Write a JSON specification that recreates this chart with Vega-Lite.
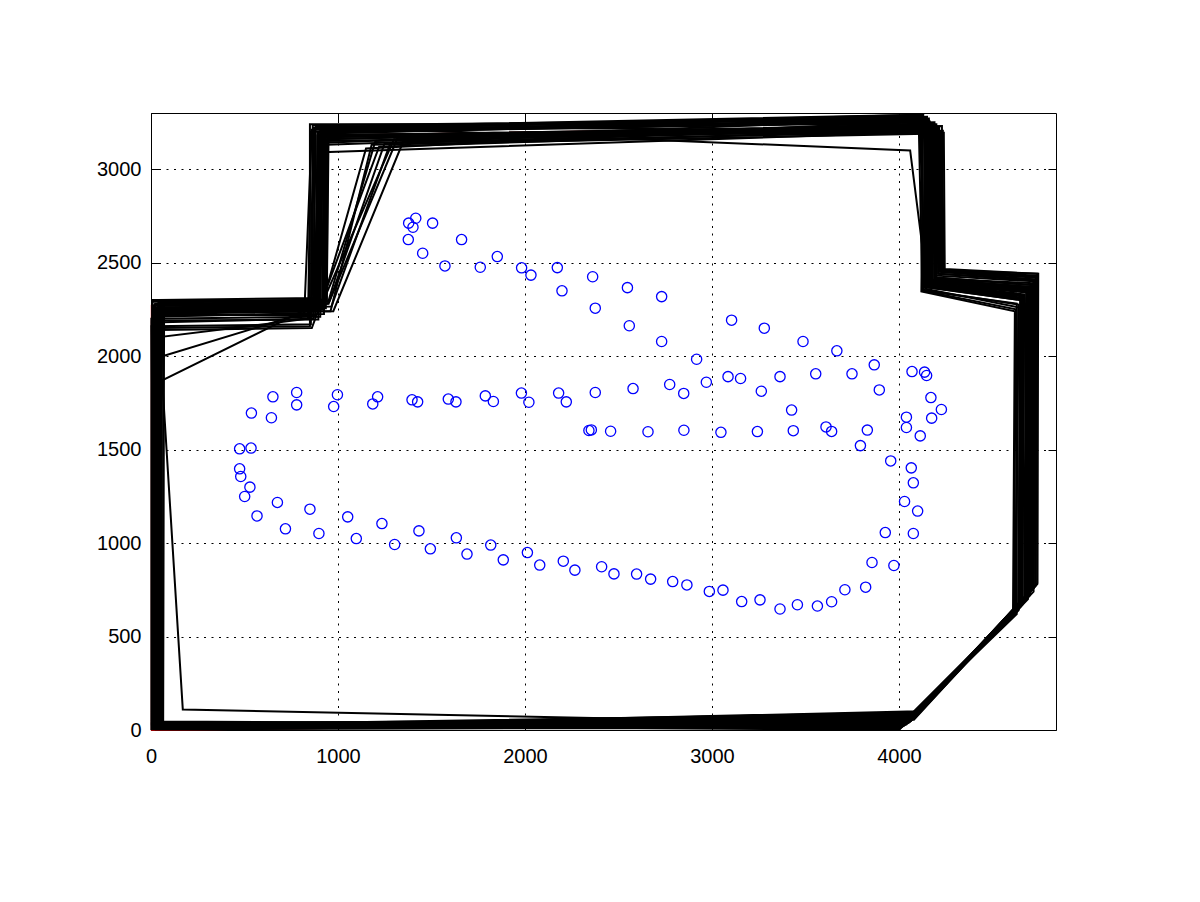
{
  "$schema": "https://vega.github.io/schema/vega-lite/v6.json",
  "width": 905,
  "height": 617,
  "autosize": {"type": "none"},
  "padding": {"left": 151, "top": 113, "right": 144, "bottom": 172},
  "background": "white",
  "config": {
    "view": {"stroke": "#000", "strokeWidth": 1},
    "font": "Liberation Sans"
  },
  "datasets": {
    "truth": [
      {"k":1,"x":3,"y":0},{"k":2,"x":3,"y":2270},{"k":3,"x":900,"y":2290},{"k":4,"x":910,"y":3180},{"k":5,"x":4180,"y":3230},{"k":6,"x":4170,"y":2400},{"k":7,"x":4685,"y":2350},{"k":8,"x":4685,"y":700},{"k":9,"x":4050,"y":40}
    ],
    "runs": [
      {"run":1,"k":1,"x":10,"y":20},{"run":1,"k":2,"x":15,"y":2270},{"run":1,"k":3,"x":900,"y":2290},{"run":1,"k":4,"x":910,"y":3180},{"run":1,"k":5,"x":4180,"y":3230},{"run":1,"k":6,"x":4170,"y":2400},{"run":1,"k":7,"x":4700,"y":2350},{"run":1,"k":8,"x":4690,"y":700},{"run":1,"k":9,"x":4050,"y":40},
      {"run":2,"k":1,"x":25,"y":15},{"run":2,"k":2,"x":20,"y":2250},{"run":2,"k":3,"x":880,"y":2260},{"run":2,"k":4,"x":895,"y":3200},{"run":2,"k":5,"x":4150,"y":3260},{"run":2,"k":6,"x":4140,"y":2380},{"run":2,"k":7,"x":4660,"y":2320},{"run":2,"k":8,"x":4650,"y":660},{"run":2,"k":9,"x":4020,"y":20},
      {"run":3,"k":1,"x":5,"y":35},{"run":3,"k":2,"x":40,"y":2290},{"run":3,"k":3,"x":930,"y":2300},{"run":3,"k":4,"x":940,"y":3150},{"run":3,"k":5,"x":4210,"y":3210},{"run":3,"k":6,"x":4200,"y":2430},{"run":3,"k":7,"x":4720,"y":2400},{"run":3,"k":8,"x":4720,"y":740},{"run":3,"k":9,"x":4080,"y":60},
      {"run":4,"k":1,"x":50,"y":10},{"run":4,"k":2,"x":10,"y":2210},{"run":4,"k":3,"x":860,"y":2230},{"run":4,"k":4,"x":870,"y":3220},{"run":4,"k":5,"x":4120,"y":3280},{"run":4,"k":6,"x":4130,"y":2350},{"run":4,"k":7,"x":4630,"y":2280},{"run":4,"k":8,"x":4630,"y":620},{"run":4,"k":9,"x":4000,"y":10},
      {"run":5,"k":1,"x":30,"y":25},{"run":5,"k":2,"x":60,"y":2300},{"run":5,"k":3,"x":950,"y":2280},{"run":5,"k":4,"x":1250,"y":3140},{"run":5,"k":5,"x":4230,"y":3200},{"run":5,"k":6,"x":4240,"y":2460},{"run":5,"k":7,"x":4740,"y":2440},{"run":5,"k":8,"x":4740,"y":780},{"run":5,"k":9,"x":4100,"y":90},
      {"run":6,"k":1,"x":15,"y":5},{"run":6,"k":2,"x":5,"y":2180},{"run":6,"k":3,"x":870,"y":2200},{"run":6,"k":4,"x":880,"y":3230},{"run":6,"k":5,"x":4060,"y":3100},{"run":6,"k":6,"x":4150,"y":2390},{"run":6,"k":7,"x":4680,"y":2340},{"run":6,"k":8,"x":4670,"y":690},{"run":6,"k":9,"x":4030,"y":30},
      {"run":7,"k":1,"x":40,"y":30},{"run":7,"k":2,"x":30,"y":2260},{"run":7,"k":3,"x":910,"y":2270},{"run":7,"k":4,"x":1300,"y":3160},{"run":7,"k":5,"x":4190,"y":3240},{"run":7,"k":6,"x":4180,"y":2410},{"run":7,"k":7,"x":4710,"y":2370},{"run":7,"k":8,"x":4700,"y":720},{"run":7,"k":9,"x":4060,"y":50},
      {"run":8,"k":1,"x":20,"y":40},{"run":8,"k":2,"x":50,"y":2280},{"run":8,"k":3,"x":920,"y":2250},{"run":8,"k":4,"x":925,"y":3190},{"run":8,"k":5,"x":4160,"y":3270},{"run":8,"k":6,"x":4160,"y":2390},{"run":8,"k":7,"x":4670,"y":2330},{"run":8,"k":8,"x":4660,"y":680},{"run":8,"k":9,"x":4040,"y":35},
      {"run":9,"k":1,"x":170,"y":110},{"run":9,"k":2,"x":60,"y":1870},{"run":9,"k":3,"x":870,"y":2270},{"run":9,"k":4,"x":900,"y":3170},{"run":9,"k":5,"x":4200,"y":3220},{"run":9,"k":6,"x":4190,"y":2420},{"run":9,"k":7,"x":4700,"y":2360},{"run":9,"k":8,"x":4690,"y":710},{"run":9,"k":9,"x":4010,"y":30},
      {"run":10,"k":1,"x":35,"y":20},{"run":10,"k":2,"x":30,"y":1990},{"run":10,"k":3,"x":820,"y":2230},{"run":10,"k":4,"x":860,"y":3210},{"run":10,"k":5,"x":4140,"y":3250},{"run":10,"k":6,"x":4130,"y":2370},{"run":10,"k":7,"x":4650,"y":2300},{"run":10,"k":8,"x":4640,"y":650},{"run":10,"k":9,"x":4010,"y":15},
      {"run":11,"k":1,"x":10,"y":10},{"run":11,"k":2,"x":25,"y":2240},{"run":11,"k":3,"x":960,"y":2240},{"run":11,"k":4,"x":1180,"y":3130},{"run":11,"k":5,"x":4220,"y":3190},{"run":11,"k":6,"x":4220,"y":2450},{"run":11,"k":7,"x":4730,"y":2420},{"run":11,"k":8,"x":4720,"y":760},{"run":11,"k":9,"x":4090,"y":75},
      {"run":12,"k":1,"x":45,"y":35},{"run":12,"k":2,"x":45,"y":2300},{"run":12,"k":3,"x":890,"y":2310},{"run":12,"k":4,"x":905,"y":3210},{"run":12,"k":5,"x":4130,"y":3290},{"run":12,"k":6,"x":4120,"y":2345},{"run":12,"k":7,"x":4620,"y":2240},{"run":12,"k":8,"x":4610,"y":610},{"run":12,"k":9,"x":3995,"y":5},
      {"run":13,"k":1,"x":60,"y":15},{"run":13,"k":2,"x":55,"y":2150},{"run":13,"k":3,"x":850,"y":2160},{"run":13,"k":4,"x":850,"y":3240},{"run":13,"k":5,"x":4170,"y":3240},{"run":13,"k":6,"x":4160,"y":2400},{"run":13,"k":7,"x":4690,"y":2350},{"run":13,"k":8,"x":4680,"y":700},{"run":13,"k":9,"x":4050,"y":45},
      {"run":14,"k":1,"x":8,"y":28},{"run":14,"k":2,"x":12,"y":2230},{"run":14,"k":3,"x":975,"y":2240},{"run":14,"k":4,"x":1350,"y":3150},{"run":14,"k":5,"x":4200,"y":3230},{"run":14,"k":6,"x":4210,"y":2440},{"run":14,"k":7,"x":4720,"y":2410},{"run":14,"k":8,"x":4710,"y":750},{"run":14,"k":9,"x":4070,"y":65},
      {"run":15,"k":1,"x":28,"y":8},{"run":15,"k":2,"x":35,"y":2270},{"run":15,"k":3,"x":900,"y":2280},{"run":15,"k":4,"x":915,"y":3090},{"run":15,"k":5,"x":4180,"y":3200},{"run":15,"k":6,"x":4150,"y":2380},{"run":15,"k":7,"x":4670,"y":2310},{"run":15,"k":8,"x":4660,"y":670},{"run":15,"k":9,"x":4030,"y":25},
      {"run":16,"k":1,"x":18,"y":30},{"run":16,"k":2,"x":8,"y":2290},{"run":16,"k":3,"x":940,"y":2300},{"run":16,"k":4,"x":950,"y":3220},{"run":16,"k":5,"x":4110,"y":3285},{"run":16,"k":6,"x":4140,"y":2360},{"run":16,"k":7,"x":4640,"y":2260},{"run":16,"k":8,"x":4620,"y":630},{"run":16,"k":9,"x":4000,"y":0},
      {"run":17,"k":1,"x":55,"y":22},{"run":17,"k":2,"x":40,"y":2140},{"run":17,"k":3,"x":860,"y":2150},{"run":17,"k":4,"x":1220,"y":3120},{"run":17,"k":5,"x":4210,"y":3215},{"run":17,"k":6,"x":4200,"y":2420},{"run":17,"k":7,"x":4710,"y":2380},{"run":17,"k":8,"x":4700,"y":730},{"run":17,"k":9,"x":4080,"y":55},
      {"run":18,"k":1,"x":12,"y":40},{"run":18,"k":2,"x":18,"y":2260},{"run":18,"k":3,"x":930,"y":2260},{"run":18,"k":4,"x":935,"y":3200},{"run":18,"k":5,"x":4190,"y":3250},{"run":18,"k":6,"x":4180,"y":2400},{"run":18,"k":7,"x":4700,"y":2360},{"run":18,"k":8,"x":4690,"y":720},{"run":18,"k":9,"x":4060,"y":45},
      {"run":19,"k":1,"x":38,"y":12},{"run":19,"k":2,"x":28,"y":2220},{"run":19,"k":3,"x":880,"y":2220},{"run":19,"k":4,"x":890,"y":3180},{"run":19,"k":5,"x":4230,"y":3230},{"run":19,"k":6,"x":4230,"y":2460},{"run":19,"k":7,"x":4740,"y":2430},{"run":19,"k":8,"x":4730,"y":770},{"run":19,"k":9,"x":4090,"y":80},
      {"run":20,"k":1,"x":22,"y":18},{"run":20,"k":2,"x":50,"y":2250},{"run":20,"k":3,"x":910,"y":2260},{"run":20,"k":4,"x":1150,"y":3110},{"run":20,"k":5,"x":4160,"y":3260},{"run":20,"k":6,"x":4150,"y":2380},{"run":20,"k":7,"x":4660,"y":2320},{"run":20,"k":8,"x":4650,"y":660},{"run":20,"k":9,"x":4020,"y":20},
      {"run":21,"k":1,"x":42,"y":32},{"run":21,"k":2,"x":22,"y":2280},{"run":21,"k":3,"x":895,"y":2290},{"run":21,"k":4,"x":900,"y":3140},{"run":21,"k":5,"x":4140,"y":3270},{"run":21,"k":6,"x":4140,"y":2370},{"run":21,"k":7,"x":4650,"y":2300},{"run":21,"k":8,"x":4640,"y":650},{"run":21,"k":9,"x":4010,"y":15},
      {"run":22,"k":1,"x":2,"y":5},{"run":22,"k":2,"x":2,"y":2200},{"run":22,"k":3,"x":905,"y":2210},{"run":22,"k":4,"x":920,"y":3230},{"run":22,"k":5,"x":4220,"y":3200},{"run":22,"k":6,"x":4220,"y":2450},{"run":22,"k":7,"x":4730,"y":2410},{"run":22,"k":8,"x":4720,"y":760},{"run":22,"k":9,"x":4100,"y":100},
      {"run":23,"k":1,"x":65,"y":25},{"run":23,"k":2,"x":70,"y":2270},{"run":23,"k":3,"x":940,"y":2290},{"run":23,"k":4,"x":945,"y":3160},{"run":23,"k":5,"x":4180,"y":3240},{"run":23,"k":6,"x":4170,"y":2410},{"run":23,"k":7,"x":4700,"y":2370},{"run":23,"k":8,"x":4690,"y":710},{"run":23,"k":9,"x":4050,"y":40},
      {"run":24,"k":1,"x":30,"y":45},{"run":24,"k":2,"x":35,"y":2100},{"run":24,"k":3,"x":840,"y":2200},{"run":24,"k":4,"x":855,"y":3200},{"run":24,"k":5,"x":4150,"y":3280},{"run":24,"k":6,"x":4135,"y":2370},{"run":24,"k":7,"x":4650,"y":2310},{"run":24,"k":8,"x":4640,"y":640},{"run":24,"k":9,"x":4020,"y":25},
      {"run":25,"k":1,"x":12,"y":12},{"run":25,"k":2,"x":14,"y":2240},{"run":25,"k":3,"x":915,"y":2250},{"run":25,"k":4,"x":925,"y":3170},{"run":25,"k":5,"x":4200,"y":3240},{"run":25,"k":6,"x":4195,"y":2420},{"run":25,"k":7,"x":4705,"y":2380},{"run":25,"k":8,"x":4700,"y":730},{"run":25,"k":9,"x":4065,"y":50},
      {"run":26,"k":1,"x":48,"y":28},{"run":26,"k":2,"x":48,"y":2260},{"run":26,"k":3,"x":885,"y":2275},{"run":26,"k":4,"x":890,"y":3195},{"run":26,"k":5,"x":4165,"y":3255},{"run":26,"k":6,"x":4160,"y":2395},{"run":26,"k":7,"x":4685,"y":2345},{"run":26,"k":8,"x":4675,"y":690},{"run":26,"k":9,"x":4040,"y":30},
      {"run":27,"k":1,"x":6,"y":18},{"run":27,"k":2,"x":6,"y":2300},{"run":27,"k":3,"x":955,"y":2295},{"run":27,"k":4,"x":1320,"y":3170},{"run":27,"k":5,"x":4235,"y":3205},{"run":27,"k":6,"x":4230,"y":2455},{"run":27,"k":7,"x":4735,"y":2425},{"run":27,"k":8,"x":4730,"y":775},{"run":27,"k":9,"x":4095,"y":85},
      {"run":28,"k":1,"x":33,"y":38},{"run":28,"k":2,"x":33,"y":2235},{"run":28,"k":3,"x":870,"y":2245},{"run":28,"k":4,"x":875,"y":3215},{"run":28,"k":5,"x":4125,"y":3275},{"run":28,"k":6,"x":4130,"y":2355},{"run":28,"k":7,"x":4640,"y":2275},{"run":28,"k":8,"x":4625,"y":625},{"run":28,"k":9,"x":4005,"y":8},
      {"run":29,"k":1,"x":58,"y":8},{"run":29,"k":2,"x":58,"y":2190},{"run":29,"k":3,"x":895,"y":2195},{"run":29,"k":4,"x":900,"y":3160},{"run":29,"k":5,"x":4185,"y":3235},{"run":29,"k":6,"x":4175,"y":2405},{"run":29,"k":7,"x":4695,"y":2365},{"run":29,"k":8,"x":4685,"y":705},{"run":29,"k":9,"x":4055,"y":40},
      {"run":30,"k":1,"x":15,"y":25},{"run":30,"k":2,"x":20,"y":2275},{"run":30,"k":3,"x":945,"y":2280},{"run":30,"k":4,"x":1200,"y":3150},{"run":30,"k":5,"x":4215,"y":3225},{"run":30,"k":6,"x":4210,"y":2440},{"run":30,"k":7,"x":4725,"y":2405},{"run":30,"k":8,"x":4715,"y":755},{"run":30,"k":9,"x":4075,"y":70},
      {"run":31,"k":1,"x":26,"y":4},{"run":31,"k":2,"x":26,"y":2215},{"run":31,"k":3,"x":925,"y":2225},{"run":31,"k":4,"x":930,"y":3205},{"run":31,"k":5,"x":4145,"y":3265},{"run":31,"k":6,"x":4145,"y":2375},{"run":31,"k":7,"x":4655,"y":2305},{"run":31,"k":8,"x":4645,"y":655},{"run":31,"k":9,"x":4015,"y":18},
      {"run":32,"k":1,"x":5,"y":30},{"run":32,"k":2,"x":65,"y":2245},{"run":32,"k":3,"x":935,"y":2255},{"run":32,"k":4,"x":940,"y":3130},{"run":32,"k":5,"x":4175,"y":3245},{"run":32,"k":6,"x":4165,"y":2400},{"run":32,"k":7,"x":4690,"y":2355},{"run":32,"k":8,"x":4680,"y":700},{"run":32,"k":9,"x":4045,"y":38},
      {"run":33,"k":1,"x":52,"y":42},{"run":33,"k":2,"x":42,"y":2285},{"run":33,"k":3,"x":905,"y":2300},{"run":33,"k":4,"x":910,"y":3225},{"run":33,"k":5,"x":4105,"y":3290},{"run":33,"k":6,"x":4125,"y":2350},{"run":33,"k":7,"x":4625,"y":2250},{"run":33,"k":8,"x":4615,"y":615},{"run":33,"k":9,"x":3998,"y":3},
      {"run":34,"k":1,"x":20,"y":15},{"run":34,"k":2,"x":3,"y":2160},{"run":34,"k":3,"x":855,"y":2170},{"run":34,"k":4,"x":865,"y":3235},{"run":34,"k":5,"x":4155,"y":3265},{"run":34,"k":6,"x":4150,"y":2385},{"run":34,"k":7,"x":4665,"y":2325},{"run":34,"k":8,"x":4655,"y":665},{"run":34,"k":9,"x":4025,"y":22},
      {"run":35,"k":1,"x":36,"y":20},{"run":35,"k":2,"x":40,"y":2255},{"run":35,"k":3,"x":965,"y":2265},{"run":35,"k":4,"x":1280,"y":3140},{"run":35,"k":5,"x":4195,"y":3220},{"run":35,"k":6,"x":4190,"y":2415},{"run":35,"k":7,"x":4715,"y":2390},{"run":35,"k":8,"x":4705,"y":740},{"run":35,"k":9,"x":4070,"y":60},
      {"run":36,"k":1,"x":44,"y":10},{"run":36,"k":2,"x":48,"y":2225},{"run":36,"k":3,"x":890,"y":2240},{"run":36,"k":4,"x":900,"y":3185},{"run":36,"k":5,"x":4240,"y":3195},{"run":36,"k":6,"x":4245,"y":2465},{"run":36,"k":7,"x":4745,"y":2440},{"run":36,"k":8,"x":4740,"y":785},{"run":36,"k":9,"x":4105,"y":95}
    ],
    "obs": [
      {"x":1416,"y":2737},{"x":1378,"y":2711},{"x":1401,"y":2689},{"x":1506,"y":2711},{"x":1376,"y":2623},{"x":1661,"y":2623},{"x":1453,"y":2550},{"x":1852,"y":2532},{"x":1572,"y":2482},{"x":1761,"y":2475},{"x":1982,"y":2472},{"x":2032,"y":2433},{"x":2173,"y":2473},{"x":2198,"y":2349},{"x":2362,"y":2424},{"x":2376,"y":2256},{"x":2548,"y":2366},{"x":2558,"y":2162},{"x":2731,"y":2318},{"x":2731,"y":2078},{"x":2918,"y":1983},{"x":3105,"y":2192},{"x":3280,"y":2149},{"x":3487,"y":2078},{"x":3668,"y":2028},{"x":3868,"y":1953},
      {"x":537,"y":1695},{"x":652,"y":1782},{"x":644,"y":1670},{"x":779,"y":1805},{"x":779,"y":1739},{"x":997,"y":1793},{"x":977,"y":1730},{"x":1212,"y":1782},{"x":1186,"y":1744},{"x":1396,"y":1766},{"x":1426,"y":1755},{"x":1590,"y":1770},{"x":1631,"y":1755},{"x":1788,"y":1787},{"x":1831,"y":1757},{"x":1981,"y":1802},{"x":2021,"y":1753},{"x":2180,"y":1802},{"x":2221,"y":1755},{"x":2376,"y":1805},{"x":2578,"y":1826},{"x":2774,"y":1848},{"x":2849,"y":1800},{"x":2970,"y":1860},{"x":3086,"y":1890},{"x":3153,"y":1880},{"x":3264,"y":1812},{"x":3364,"y":1890},{"x":3555,"y":1905},{"x":3749,"y":1905},{"x":3895,"y":1819},{"x":3426,"y":1711},{"x":4070,"y":1917},{"x":4137,"y":1914},{"x":4148,"y":1896},{"x":4171,"y":1778},{"x":4227,"y":1714},{"x":4175,"y":1668},{"x":4040,"y":1673},{"x":4040,"y":1618},{"x":4114,"y":1573},
      {"x":2342,"y":1602},{"x":2355,"y":1605},{"x":2458,"y":1598},{"x":2658,"y":1595},{"x":2850,"y":1603},{"x":3048,"y":1592},{"x":3243,"y":1596},{"x":3435,"y":1601},{"x":3610,"y":1621},{"x":3640,"y":1597},{"x":3831,"y":1604},{"x":3794,"y":1521},{"x":3956,"y":1439},{"x":4066,"y":1402},{"x":4077,"y":1322},{"x":4030,"y":1222},{"x":4100,"y":1171},{"x":3927,"y":1056},{"x":4077,"y":1051},{"x":3856,"y":896},{"x":3973,"y":880},{"x":3822,"y":764},{"x":3711,"y":750},
      {"x":474,"y":1504},{"x":535,"y":1508},{"x":474,"y":1397},{"x":480,"y":1356},{"x":529,"y":1299},{"x":501,"y":1249},{"x":567,"y":1145},{"x":676,"y":1217},{"x":719,"y":1076},{"x":850,"y":1181},{"x":898,"y":1051},{"x":1052,"y":1140},{"x":1098,"y":1024},{"x":1235,"y":1104},{"x":1303,"y":992},{"x":1433,"y":1065},{"x":1494,"y":969},{"x":1633,"y":1028},{"x":1690,"y":941},{"x":1817,"y":989},{"x":1884,"y":910},{"x":2013,"y":949},{"x":2079,"y":882},{"x":2205,"y":903},{"x":2267,"y":855},{"x":2410,"y":873},{"x":2476,"y":835},{"x":2597,"y":834},{"x":2672,"y":807},{"x":2790,"y":794},{"x":2866,"y":776},{"x":2986,"y":741},{"x":3059,"y":748},{"x":3159,"y":687},{"x":3257,"y":696},{"x":3364,"y":647},{"x":3457,"y":670},{"x":3564,"y":663},{"x":3640,"y":686}
    ]
  },
  "resolve": {"axis": {"x": "independent", "y": "independent"}},
  "layer": [
    {
      "data": {"name": "truth"},
      "mark": {"type": "line", "interpolate": "linear-closed", "color": "#cc0000", "strokeWidth": 1.5},
      "encoding": {
        "x": {"field": "x", "type": "quantitative", "scale": {"domain": [0, 4840], "nice": false, "zero": false},
          "axis": {"orient": "bottom", "values": [0, 1000, 2000, 3000, 4000], "format": "d", "title": null, "grid": true, "gridColor": "#000", "gridOpacity": 1, "gridDash": [2, 5.5], "gridWidth": 1, "domain": false, "tickColor": "#000", "tickSize": -8, "tickWidth": 1, "labelFont": "Liberation Sans", "labelFontSize": 20, "labelColor": "#000", "labelPadding": 24, "labelFlush": false, "labelOverlap": false}},
        "y": {"field": "y", "type": "quantitative", "scale": {"domain": [0, 3300], "nice": false, "zero": false},
          "axis": {"orient": "left", "values": [0, 500, 1000, 1500, 2000, 2500, 3000], "format": "d", "title": null, "grid": true, "gridColor": "#000", "gridOpacity": 1, "gridDash": [2, 5.5], "gridWidth": 1, "domain": false, "tickColor": "#000", "tickSize": -8, "tickWidth": 1, "labelFont": "Liberation Sans", "labelFontSize": 20, "labelColor": "#000", "labelPadding": 18, "labelFlush": false, "labelOverlap": false}},
        "order": {"field": "k", "type": "quantitative"}
      }
    },
    {
      "data": {"name": "runs"},
      "mark": {"type": "line", "interpolate": "linear-closed", "color": "#000", "strokeWidth": 2},
      "encoding": {
        "x": {"field": "x", "type": "quantitative", "axis": null},
        "y": {"field": "y", "type": "quantitative", "axis": null},
        "detail": {"field": "run", "type": "nominal"},
        "order": {"field": "k", "type": "quantitative"}
      }
    },
    {
      "data": {"name": "obs"},
      "mark": {"type": "point", "shape": "circle", "filled": false, "color": "#0000ff", "strokeWidth": 1.3, "size": 105, "opacity": 1},
      "encoding": {
        "x": {"field": "x", "type": "quantitative",
          "axis": {"orient": "top", "values": [0, 1000, 2000, 3000, 4000], "title": null, "grid": false, "labels": false, "domain": false, "tickColor": "#000", "tickSize": -8, "tickWidth": 1}},
        "y": {"field": "y", "type": "quantitative",
          "axis": {"orient": "right", "values": [0, 500, 1000, 1500, 2000, 2500, 3000], "title": null, "grid": false, "labels": false, "domain": false, "tickColor": "#000", "tickSize": -8, "tickWidth": 1}}
      }
    }
  ]
}
